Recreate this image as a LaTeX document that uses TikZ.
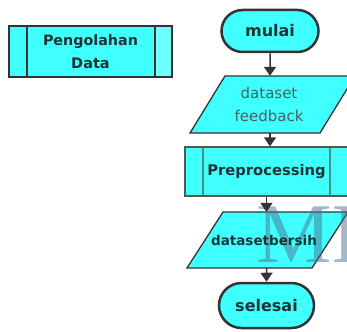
\documentclass[tikz,border=0pt]{standalone}
\usepackage{fontspec}
\setmainfont{DejaVu Sans}
\newfontfamily\wmfont{Liberation Serif}
\usetikzlibrary{arrows.meta,calc,shapes.misc}
\definecolor{cy}{HTML}{40FFFF}
\definecolor{cyl}{HTML}{70FFFF}
\definecolor{bd}{HTML}{333333}
\definecolor{bdg}{HTML}{555555}
\definecolor{inl}{HTML}{4D8C8C}
\definecolor{tx}{HTML}{1E3434}
\definecolor{txg}{HTML}{4A6060}
\definecolor{wmc}{HTML}{4A7090}
\begin{document}
\begin{tikzpicture}[x=1pt,y=-1pt,
  lbl/.style={font=\fontsize{14.5}{23}\selectfont\bfseries, text=tx, align=center, inner sep=0pt},
  term/.style={rounded rectangle, draw=bd, line width=2.5pt, fill=cy, inner sep=0pt},
  para/.style={fill=cy, draw=bd, line width=1.3pt, line join=miter},
  arr/.style={draw=bd, line width=1.5pt, -{Triangle[width=12pt,length=9pt]}},
]
\useasboundingbox (0,0) rectangle (347,331);
\clip (0,0) rectangle (347,331);

% Pengolahan Data (predefined process, lighter right band)
\node[lbl, draw=bd, line width=1.3pt, fill=cy, minimum width=163pt, minimum height=51pt,
  path picture={
    \fill[cyl] ([xshift=-17pt]path picture bounding box.north east) rectangle (path picture bounding box.south east);
    \draw[bd, line width=1.3pt] ([xshift=18pt]path picture bounding box.north west) -- ([xshift=18pt]path picture bounding box.south west);
    \draw[bd, line width=1.3pt] ([xshift=-17pt]path picture bounding box.north east) -- ([xshift=-17pt]path picture bounding box.south east);
  }] (pd) at (90.5,51.5) {\fontsize{14.3}{23}\selectfont Pengolahan\\Data};

% parallelogram shapes
\path[para] (190,133) -- (320,133) -- (355,76) -- (225,76) -- cycle;
\path[para] (187,268) -- (312,268) -- (348,212) -- (223,212) -- cycle;

% watermark
\node[font=\wmfont\fontsize{85}{85}\selectfont, text=wmc, opacity=0.5, inner sep=0pt, anchor=base west] (wm) at (256,262) {MI};

% terminals
\node[lbl, term, minimum width=97pt, minimum height=42pt] (mulai) at (270,31) {\fontsize{16}{20}\selectfont mulai};
\node[lbl, term, minimum width=95pt, minimum height=45pt] (end) at (266.5,305.5) {\fontsize{16}{20}\selectfont selesai};

% parallelogram labels (anchor boxes)
\node[align=center, inner sep=0pt, minimum width=130pt, minimum height=57pt, text=txg,
  font=\fontsize{15}{23}\selectfont] (p1) at (269,104.5) {dataset\\feedback};
\node[lbl, minimum width=125pt, minimum height=56pt] (p2) at (264,240) {\fontsize{13.5}{20}\selectfont datasetbersih};

% Preprocessing (predefined process)
\node[lbl, draw=bdg, line width=1.3pt, fill=cy, minimum width=163pt, minimum height=49pt,
  path picture={
    \draw[inl, line width=1.3pt] ([xshift=18pt]path picture bounding box.north west) -- ([xshift=18pt]path picture bounding box.south west);
    \draw[inl, line width=1.3pt] ([xshift=-18pt]path picture bounding box.north east) -- ([xshift=-18pt]path picture bounding box.south east);
  }] (pre) at (266.5,171.5) {\fontsize{14.7}{20}\selectfont Preprocessing};

% connectors
\draw[arr] (mulai) -- (mulai |- p1.north);
\draw[arr] (p1.south -| mulai) -- (mulai |- pre.north);
\draw[arr] (pre) -- (pre |- p2.north);
\draw[arr] (p2.south -| pre) -- (end);
\end{tikzpicture}
\end{document}
